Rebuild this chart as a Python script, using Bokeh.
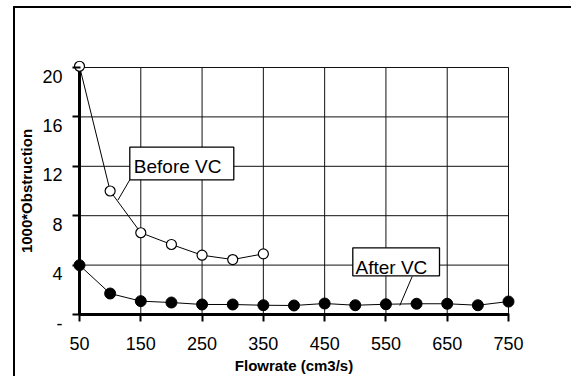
from bokeh.plotting import figure
from bokeh.models import Range1d, FixedTicker
from bokeh.core.properties import value
from bokeh.embed import file_html
from bokeh.resources import INLINE

# ---- data ----
flow_before = [50, 100, 150, 200, 250, 300, 350]
obs_before = [20.1, 10.0, 6.62, 5.67, 4.80, 4.45, 4.91]
flow_after = [50, 100, 150, 200, 250, 300, 350, 400, 450, 500, 550, 600, 650, 700, 750]
obs_after = [3.99, 1.70, 1.08, 0.97, 0.81, 0.81, 0.75, 0.73, 0.89, 0.75, 0.83, 0.87, 0.87, 0.75, 1.05]
x_ticks = [50, 150, 250, 350, 450, 550, 650, 750]
y_ticks = [0, 4, 8, 12, 16, 20]
y_tick_labels = {0: "-", 4: "4", 8: "8", 12: "12", 16: "16", 20: "20"}
x_title = "Flowrate (cm3/s)"
y_title = "1000*Obstruction"
callout_text = ["Before VC", "After VC"]

# ---- geometry ----
X0, X1, Y0, Y1 = 50, 750, 0, 20
FW, FH = 429, 247          # pixel size of data region
PAD = 7                    # pixel padding around data region
LEFT, TOP = 72, 60         # frame origin in pixels
W, H = 571, 376
sx = FW / (X1 - X0)
sy = FH / (Y1 - Y0)
px = PAD / sx
py = PAD / sy

FONT = "Liberation Sans"

# outer chart border: only its left and top edges fall inside the window
BORDER_CSS = (":host::after { content: ''; position: absolute; left: 13px; top: 6px; "
              "width: 556px; height: 368px; border-left: 2px solid #000; "
              "border-top: 2px solid #000; pointer-events: none; z-index: 10; }\n"
              ":host { overflow: hidden; }")

p = figure(width=W, height=H, output_backend="svg", toolbar_location=None,
           x_range=Range1d(X0 - px, X1 + px), y_range=Range1d(Y0 - py, Y1 + py),
           min_border_left=LEFT, min_border_top=TOP,
           min_border_right=W - LEFT - FW - 2 * PAD,
           min_border_bottom=H - TOP - FH - 2 * PAD,
           stylesheets=[BORDER_CSS])
p.outline_line_color = None
p.grid.visible = False
p.background_fill_color = "white"
p.border_fill_color = "white"

# axes
for ax in (p.xaxis[0], p.yaxis[0]):
    ax.axis_line_color = None
    ax.major_tick_line_width = 2
    ax.major_tick_line_color = "black"
    ax.minor_tick_line_color = None
    ax.major_tick_out = 0
    ax.major_tick_in = 8
    ax.major_label_text_font = FONT
    ax.major_label_text_font_size = "18px"
    ax.major_label_text_color = "black"
    ax.axis_label_text_font = FONT
    ax.axis_label_text_font_size = "15px"
    ax.axis_label_text_font_style = "bold"
    ax.axis_label_text_color = "black"

xa = p.xaxis[0]
xa.ticker = FixedTicker(ticks=x_ticks)
xa.major_label_standoff = 15
xa.axis_label = x_title
xa.axis_label_standoff = 4

ya = p.yaxis[0]
ya.ticker = FixedTicker(ticks=y_ticks)
# labels sit a little below their tick, as in the original chart
ya.major_label_overrides = {k: "\n" + v for k, v in y_tick_labels.items()}
ya.major_label_text_line_height = 0.9
ya.major_label_standoff = 10
ya.axis_label = y_title
ya.axis_label_standoff = 4

# grid lines + frame box (within data region)
gx = [t for t in x_ticks if t != X0]
p.segment(x0=gx, y0=[Y0] * len(gx), x1=gx, y1=[Y1] * len(gx), line_color="#111111", line_width=1)
gy = [t for t in y_ticks if t != Y0]
p.segment(x0=[X0] * len(gy), y0=gy, x1=[X1] * len(gy), y1=gy, line_color="#111111", line_width=1)


def dx(pxl):  # pixel x -> data
    return X0 + (pxl - (LEFT + PAD)) / sx


def dy(pyl):  # pixel y -> data
    return (TOP + PAD + FH - pyl) / sy


# callout leaders
p.segment(x0=[dx(129.3), dx(411.7)], y0=[dy(179.3), dy(276)],
          x1=[dx(117.5), dx(399.3)], y1=[dy(199.5), dy(305)],
          line_color="black", line_width=1)
# callout boxes
p.quad(left=[dx(129.3), dx(352.3)], right=[dx(233.3), dx(439)],
       top=[dy(146.7), dy(247.3)], bottom=[dy(179.3), dy(275.3)],
       fill_color="white", line_color="black", line_width=1.3)
p.text(x=[dx(133.3), dx(355)], y=[dy(166), dy(266.7)], text=callout_text,
       text_font=value(FONT), text_font_size=value("19px"), text_color="black",
       text_align="left", text_baseline="alphabetic")

# axis lines (at data origin)
p.segment(x0=[X0, X0], y0=[Y0, Y0], x1=[X0, X1], y1=[Y1, Y0], line_color="black", line_width=3)

# series
p.line(flow_before, obs_before, line_color="black", line_width=1)
p.scatter(flow_before, obs_before, size=10, fill_color="white", line_color="black", line_width=1.2)
p.line(flow_after, obs_after, line_color="black", line_width=1)
p.scatter(flow_after, obs_after, size=11, fill_color="black", line_color="black")

open("out.html", "w").write(file_html(p, INLINE))
